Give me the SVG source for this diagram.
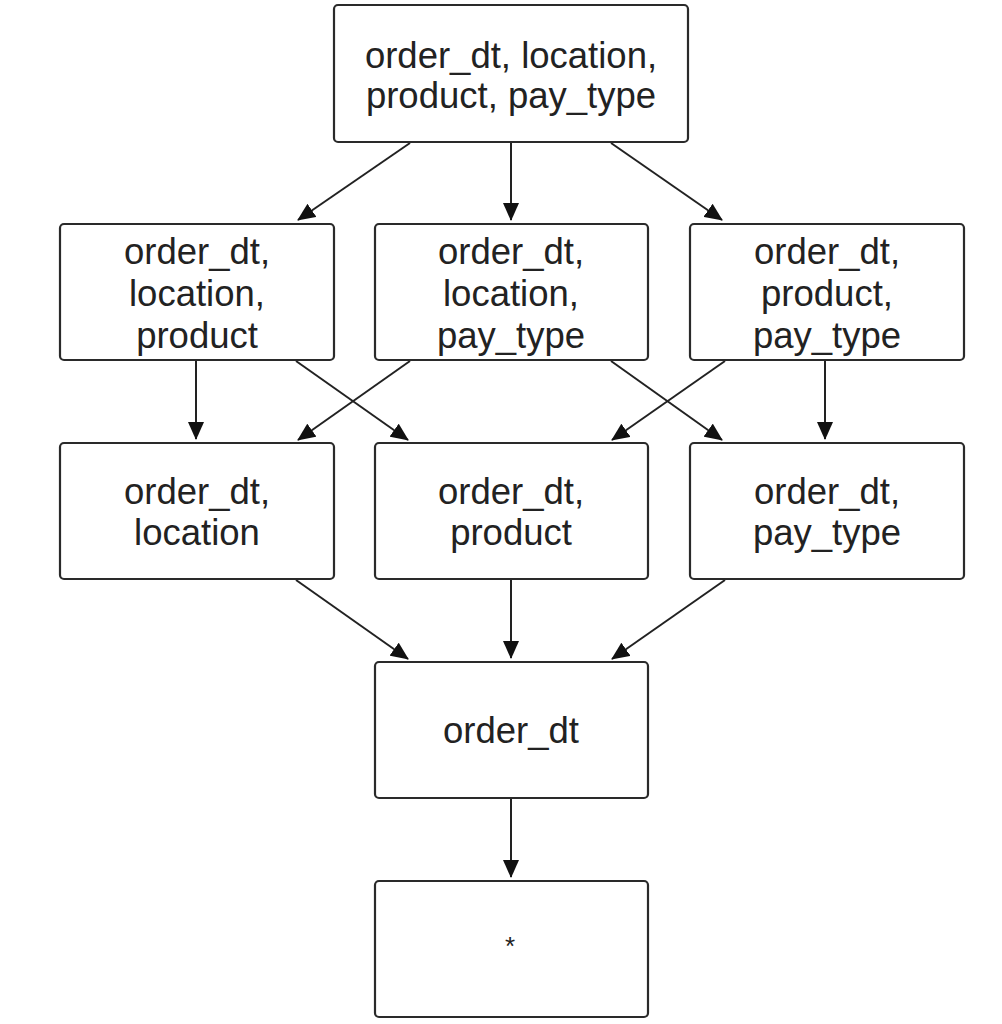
<svg xmlns="http://www.w3.org/2000/svg" width="1002" height="1024" viewBox="0 0 1002 1024">
<style>
.box{fill:#fff;stroke:#2a2a2a;stroke-width:2.2}
.t{font-family:"Liberation Sans",Arial,sans-serif;font-size:36.5px;fill:#222;text-anchor:middle}
.c{stroke:#222;stroke-width:2;fill:none;marker-end:url(#ah)}
</style>
<defs>
<marker id="ah" markerUnits="userSpaceOnUse" markerWidth="18" markerHeight="16" viewBox="0 0 18 16" refX="17" refY="8" orient="auto">
<path d="M0,0 L18,8 L0,16 Z" fill="#111"/>
</marker>
</defs>
<rect width="1002" height="1024" fill="#fff"/>
<g id="connectors">
<line class="c" x1="410" y1="143" x2="298" y2="220"/>
<line class="c" x1="511" y1="143" x2="511" y2="220"/>
<line class="c" x1="611" y1="143" x2="722" y2="220"/>
<line class="c" x1="196" y1="361" x2="196" y2="439"/>
<line class="c" x1="296" y1="361" x2="408" y2="440"/>
<line class="c" x1="410" y1="361" x2="298" y2="440"/>
<line class="c" x1="611" y1="361" x2="722" y2="440"/>
<line class="c" x1="725" y1="361" x2="612" y2="440"/>
<line class="c" x1="825" y1="361" x2="825" y2="439"/>
<line class="c" x1="296" y1="580" x2="408" y2="659"/>
<line class="c" x1="511" y1="580" x2="511" y2="658"/>
<line class="c" x1="725" y1="580" x2="612" y2="659"/>
<line class="c" x1="511" y1="799" x2="511" y2="877"/>
</g>
<g id="n_all">
<rect class="box" x="334" y="5" width="354" height="137" rx="4"/>
<text class="t" x="511" y="68">order_dt, location,</text>
<text class="t" x="511" y="108">product, pay_type</text>
</g>
<g id="n_dlp">
<rect class="box" x="60" y="224" width="274" height="136" rx="4"/>
<text class="t" x="197" y="264">order_dt,</text>
<text class="t" x="197" y="306">location,</text>
<text class="t" x="197" y="348">product</text>
</g>
<g id="n_dlt">
<rect class="box" x="375" y="224" width="273" height="136" rx="4"/>
<text class="t" x="511" y="264">order_dt,</text>
<text class="t" x="511" y="306">location,</text>
<text class="t" x="511" y="348">pay_type</text>
</g>
<g id="n_dpt">
<rect class="box" x="690" y="224" width="274" height="136" rx="4"/>
<text class="t" x="827" y="264">order_dt,</text>
<text class="t" x="827" y="306">product,</text>
<text class="t" x="827" y="348">pay_type</text>
</g>
<g id="n_dl">
<rect class="box" x="60" y="443" width="274" height="136" rx="4"/>
<text class="t" x="197" y="504">order_dt,</text>
<text class="t" x="197" y="545">location</text>
</g>
<g id="n_dp">
<rect class="box" x="375" y="443" width="273" height="136" rx="4"/>
<text class="t" x="511" y="504">order_dt,</text>
<text class="t" x="511" y="545">product</text>
</g>
<g id="n_dt">
<rect class="box" x="690" y="443" width="274" height="136" rx="4"/>
<text class="t" x="827" y="504">order_dt,</text>
<text class="t" x="827" y="545">pay_type</text>
</g>
<g id="n_d">
<rect class="box" x="375" y="662" width="273" height="136" rx="4"/>
<text class="t" x="511" y="743">order_dt</text>
</g>
<g id="n_star">
<rect class="box" x="375" y="881" width="273" height="136" rx="4"/>
<text class="t" x="510" y="955" style="font-size:26px">*</text>
</g>
</svg>
